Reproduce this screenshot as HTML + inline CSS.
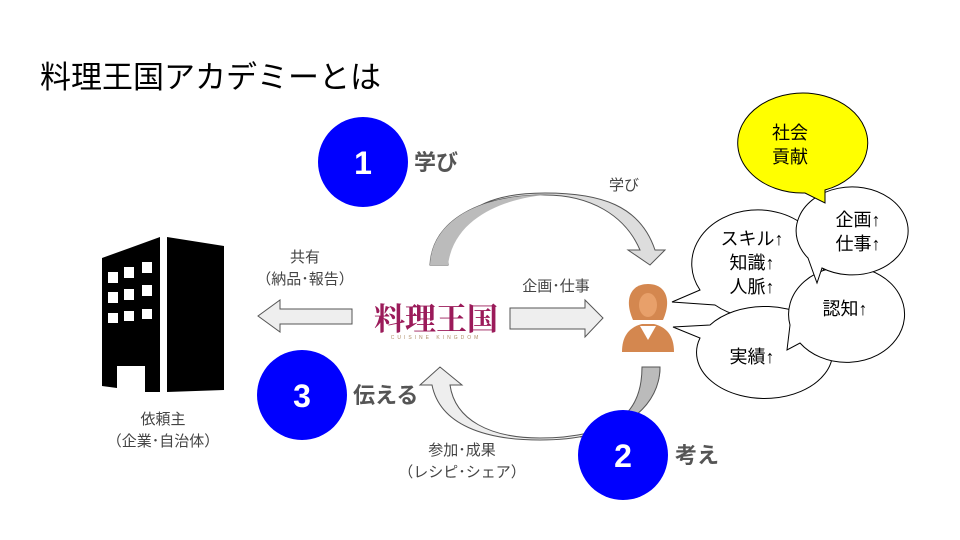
<!DOCTYPE html>
<html><head><meta charset="utf-8"><style>
html,body{margin:0;padding:0;background:#fff}
svg{display:block}
text{font-family:"Liberation Sans","Noto Sans CJK JP",sans-serif}
</style></head><body>
<svg width="960" height="540" viewBox="0 0 960 540" xmlns="http://www.w3.org/2000/svg">
<rect width="960" height="540" fill="#fff"/>
<text x="40" y="88" font-size="31" fill="#000">料理王国アカデミーとは</text>

<!-- building -->
<path d="M102,258 L160,237 L160,392 L145,392 L145,366 L117,366 L117,388 L102,386 Z" fill="#000"/>
<path d="M167,237 L224,246 L224,390 L167,392 Z" fill="#000"/>
<g fill="#fff">
<rect x="108" y="272" width="10" height="11"/><rect x="124" y="267" width="10" height="11"/><rect x="142" y="262" width="10" height="11"/>
<rect x="108" y="292" width="10" height="11"/><rect x="124" y="289" width="10" height="11"/><rect x="142" y="285" width="10" height="11"/>
<rect x="108" y="313" width="10" height="10"/><rect x="124" y="311" width="10" height="10"/><rect x="142" y="309" width="10" height="10"/>
</g>
<text x="163" y="424" font-size="15" fill="#444" text-anchor="middle">依頼主</text>
<text x="163" y="446" font-size="15" fill="#444" text-anchor="middle">（企業･自治体）</text>

<!-- left arrow -->
<path d="M352,309 L280,309 L280,300 L258,316 L280,332 L280,324 L352,324 Z" fill="#eee" stroke="#555" stroke-width="1"/>
<text x="305" y="262" font-size="15" fill="#444" text-anchor="middle">共有</text>
<text x="305" y="284" font-size="15" fill="#444" text-anchor="middle">（納品･報告）</text>

<!-- right arrow -->
<path d="M510,308 L585,308 L585,300 L603,318 L585,337 L585,329 L510,329 Z" fill="#eee" stroke="#555" stroke-width="1"/>
<text x="556" y="291" font-size="15" fill="#444" text-anchor="middle">企画･仕事</text>

<!-- logo -->
<text x="436" y="330" font-size="31" font-weight="bold" fill="#9b1b5a" text-anchor="middle" style="font-family:'Noto Serif CJK SC','Noto Serif CJK JP',serif">料理王国</text>
<text x="436" y="339" font-size="5" fill="#b0906a" text-anchor="middle" letter-spacing="3">CUISINE KINGDOM</text>

<!-- top curved arrow -->
<path d="M430,265 C432,220 480,195 545,195 C590,195 625,215 640,250 L628,250 L650,265 L665,250 L655,250 C640,205 600,193 545,193 C470,193 445,225 448,265 Z" fill="#ddd" stroke="#555" stroke-width="1"/>
<path d="M430,265 C432,220 480,195 545,195 C520,197 455,210 448,265 Z" fill="#bbb"/>
<text x="624" y="190" font-size="15" fill="#444" text-anchor="middle">学び</text>

<!-- bottom curved arrow -->
<path d="M660,367 C660,410 610,438 540,438 C490,438 455,420 450,385 L462,385 L440,367 L420,385 L432,385 C440,425 485,440 540,440 C620,440 645,410 642,367 Z" fill="#eee" stroke="#555" stroke-width="1"/>
<path d="M642,367 L660,367 C660,405 625,432 580,437 C625,425 642,405 642,367 Z" fill="#bbb" stroke="#555" stroke-width="1"/>
<text x="462" y="455" font-size="15" fill="#444" text-anchor="middle">参加･成果</text>
<text x="462" y="477" font-size="15" fill="#444" text-anchor="middle">（レシピ･シェア）</text>

<!-- person -->
<g fill="#d4874f">
<path d="M633,320 C624,300 630,284 648,284 C666,284 672,300 663,320 Z"/>
<path d="M622,352 C622,335 630,327 642,324 L654,324 C666,327 674,335 674,352 Z"/>
</g>
<ellipse cx="648" cy="305" rx="9" ry="12" fill="#e8a06a"/>
<path d="M640,326 L648,340 L656,326" fill="#fff"/>

<!-- circles -->
<circle cx="363" cy="162" r="45" fill="#00f"/>
<text x="363" y="174" font-size="32" font-weight="bold" fill="#fff" text-anchor="middle">1</text>
<text x="414" y="170" font-size="22" font-weight="bold" fill="#555">学び</text>
<circle cx="302" cy="395" r="45" fill="#00f"/>
<text x="302" y="407" font-size="32" font-weight="bold" fill="#fff" text-anchor="middle">3</text>
<text x="353" y="403" font-size="22" font-weight="bold" fill="#555">伝える</text>
<circle cx="623" cy="455" r="45" fill="#00f"/>
<text x="623" y="467" font-size="32" font-weight="bold" fill="#fff" text-anchor="middle">2</text>
<text x="675" y="463" font-size="22" font-weight="bold" fill="#555">考え</text>

<!-- bubbles -->
<g stroke="#000" stroke-width="1" fill="#fff">
<path d="M700,290 A66,54 0 1 1 715,305 L672,302 Z"/>
<path d="M700,338 A68,46 0 1 0 710,325 L673,327 Z"/>
<path d="M800,343 A58,48 0 1 0 790,325 L787,350 Z"/>
<path d="M822,268 A56,44 0 1 0 808,258 L817,283 Z"/>
<path d="M825,190 A65,50 0 1 0 805,193 L825,203 Z" fill="#ff0"/>
</g>
<g font-size="18" fill="#000" text-anchor="middle">
<text x="790" y="139">社会</text><text x="790" y="163">貢献</text>
<text x="858" y="226">企画↑</text><text x="858" y="250">仕事↑</text>
<text x="752" y="245">スキル↑</text><text x="752" y="269">知識↑</text><text x="752" y="293">人脈↑</text>
<text x="845" y="315">認知↑</text>
<text x="752" y="363">実績↑</text>
</g>
</svg>
</body></html>
